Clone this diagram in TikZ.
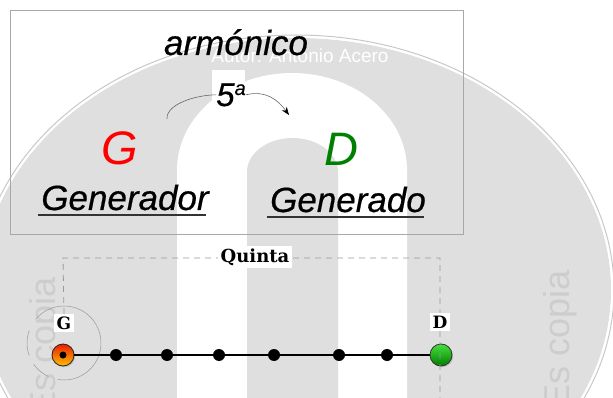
\documentclass[tikz,border=0pt]{standalone}
\usepackage{fontspec}
\usepackage{graphicx}
\setmainfont{Liberation Sans}
\newfontfamily\slabfont{DejaVu Serif}
\newfontfamily\heavyfont{Liberation Sans}[FakeBold=0.45]
\usetikzlibrary{arrows.meta,shadows}
\definecolor{wmgray}{HTML}{DFDFDF}
\definecolor{wmring}{HTML}{C8C8C8}
\definecolor{wmtext}{HTML}{CDCDCD}
\definecolor{boxgray}{HTML}{A8A8A8}
\definecolor{gred}{HTML}{FF0000}
\definecolor{dgreen}{HTML}{008000}
\definecolor{dashgray}{HTML}{9A9A9A}
\begin{document}
\begin{tikzpicture}[x=1pt,y=-1pt,
  wmlabel/.style={text=wmtext,font=\fontsize{36}{40}\selectfont,rotate=90,anchor=base east,inner sep=0pt},
  bigital/.style={font=\heavyfont\itshape\fontsize{35}{40}\selectfont,inner sep=0pt,anchor=base},
  note/.style={font=\itshape\fontsize{47}{50}\selectfont,inner sep=0pt},
  uline/.style={draw=black!80,line width=1.8pt},
  slab/.style={font=\slabfont\bfseries\fontsize{17}{20}\selectfont,fill=white,inner sep=2.5pt},
  dashline/.style={draw=dashgray,line width=0.8pt,dash pattern=on 6pt off 5pt},
  stepdot/.style={circle,fill=black,minimum size=12pt,inner sep=0pt},
  gmark/.style={circle,draw=black!85,line width=0.8pt,minimum size=22pt,inner sep=0pt,
     top color={rgb,255:red,235;green,30;blue,0},bottom color={rgb,255:red,255;green,190;blue,0},
     drop shadow={shadow xshift=1.2pt,shadow yshift=-1.2pt,opacity=0.35}},
  dmark/.style={circle,draw=black!80,line width=0.8pt,minimum size=22pt,inner sep=0pt,
     top color={rgb,255:red,70;green,225;blue,60},bottom color={rgb,255:red,0;green,125;blue,0},
     drop shadow={shadow xshift=1.2pt,shadow yshift=-1.2pt,opacity=0.35}},
  ringline/.style={draw=gray!80,line width=0.5pt}
]
\useasboundingbox (0,0) rectangle (613,398);
% ---------- watermark ----------
\begin{scope}
\clip (0,0) rectangle (613,398);
\draw[wmring,line width=1pt] (296,290) ellipse [x radius=318pt,y radius=255pt];
\fill[wmgray] (296,290) ellipse [x radius=315pt,y radius=252pt];
\draw[white,line width=1.2pt] (296,290) ellipse [x radius=316pt,y radius=253pt];
\fill[white] (212,70) rectangle (245,398);
\fill[white] (177,398) -- (177,170) arc[start angle=180,end angle=0,x radius=115pt,y radius=97pt] -- (407,398) -- cycle;
\fill[wmgray] (247,398) -- (247,172) arc[start angle=180,end angle=0,x radius=45.5pt,y radius=34pt] -- (338,398) -- cycle;
\node[text=white,font=\fontsize{19}{22}\selectfont,anchor=base,inner sep=0pt] (autor) at (300,63) {Autor: Antonio Acero};
\node[wmlabel] (escopiaL) at (55,277) {Es copia};
\node[wmlabel] (escopiaR) at (569,270) {Es copia};
\end{scope}
% ---------- upper box ----------
\draw[boxgray,line width=0.9pt] (10,10) rectangle (463,234);
\node[bigital] (arm) at (236,55) {armónico};
\node[font=\heavyfont\itshape\fontsize{33}{36}\selectfont,inner sep=0pt,anchor=base] (five) at (231,106) {5\raisebox{11pt}{\fontsize{20}{22}\selectfont a}};
\coordinate (arcstart) at (167,119);
\coordinate (arcend) at (289,115);
\draw[black!60,line width=0.6pt] (arcstart) .. controls (166,104) and (196,95) .. (five.west);
\draw[black!60,line width=0.6pt,-{Stealth[length=8pt,width=6pt,black]}] (five.east) .. controls (266,90) and (278,100) .. (arcend);
\node[note,text=gred] (gnote) at (120,148) {G};
\node[note,text=dgreen] (dnote) at (341,149) {D};
\node[bigital] (generador) at (125,210) {Generador};
\node[bigital] (generado) at (348,212) {Generado};
\draw[uline] ([xshift=-3pt,yshift=-5pt]generador.base west) -- ([xshift=-3pt,yshift=-5pt]generador.base east);
\draw[uline] ([xshift=-3pt,yshift=-5pt]generado.base west) -- ([xshift=-2pt,yshift=-5pt]generado.base east);
% ---------- lower diagram ----------
\coordinate (ringc) at (64,343);
\draw[ringline] ([shift={(-100:37pt)}]ringc) arc[start angle=-100,end angle=140,radius=37pt];
\draw[ringline] ([shift={(160:37pt)}]ringc) arc[start angle=160,end angle=200,radius=37pt];
\draw[ringline] ([shift={(215:37pt)}]ringc) arc[start angle=215,end angle=245,radius=37pt];
\node[gmark] (gdot) at (63,355) {};
\node[dmark] (ddot) at (441,355) {};
\draw[black,line width=2.2pt] (gdot) -- (ddot);
\node[circle,fill=black,minimum size=7pt,inner sep=0pt] (gcenter) at (gdot) {};
\foreach \i/\x in {1/116,2/167,3/219,4/274,5/339,6/387}
  \node[stepdot] (s\i) at (\x,355) {};
\coordinate (qtl) at (63,258);
\coordinate (qtr) at (440,258);
\coordinate (dbot) at (440,398);
\node[slab] (glabel) at (64,323) {G};
\node[slab] (dlabel) at (440,322) {D};
\draw[dashline] (glabel.north) -- (qtl) -- (qtr) -- (dbot);
\node[slab,font=\slabfont\bfseries\fontsize{18}{20}\selectfont,inner sep=3pt] (quinta) at (255,257) {Quinta};
\node[slab] at (glabel) {G};
\node[slab] at (dlabel) {D};
\end{tikzpicture}
\end{document}
